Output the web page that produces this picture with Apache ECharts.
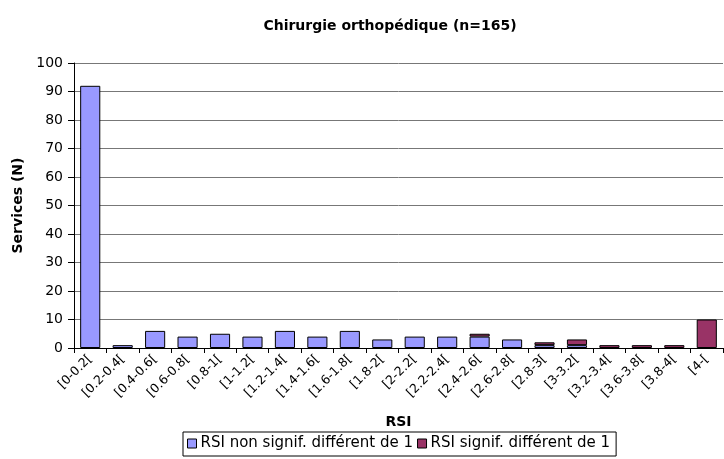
<!DOCTYPE html>
<html>
<head>
<meta charset="utf-8">
<script src="https://cdn.jsdelivr.net/npm/echarts@6/dist/echarts.min.js"></script>
<style>
  html, body { margin: 0; padding: 0; background: #fff; }
  #chart { width: 724px; height: 459px; }
</style>
</head>
<body>
<div id="chart"></div>
<script>
// RSI classes (no [3.4-3.6[ class in the source)
const categories = [
  "[0-0.2[", "[0.2-0.4[", "[0.4-0.6[", "[0.6-0.8[", "[0.8-1[",
  "[1-1.2[", "[1.2-1.4[", "[1.4-1.6[", "[1.6-1.8[", "[1.8-2[",
  "[2-2.2[", "[2.2-2.4[", "[2.4-2.6[", "[2.6-2.8[", "[2.8-3[",
  "[3-3.2[", "[3.2-3.4[", "[3.6-3.8[", "[3.8-4[", "[4-["
];
const nonSignif = [92, 1, 6, 4, 5, 4, 6, 4, 6, 3, 4, 4, 4, 3, 1, 1, 0, 0, 0, 0];
const signif    = [0, 0, 0, 0, 0, 0, 0, 0, 0, 0, 0, 0, 1, 0, 1, 2, 1, 1, 1, 10];
const yTicks = { min: 0, max: 100, step: 10 };

// the source chart is stretched sideways; DejaVu's wider glyphs follow it best
const FONT = "'DejaVu Sans', Arial, sans-serif";

const chart = echarts.init(document.getElementById("chart"), null, { renderer: "canvas" });

const bar = (name, data, color) => ({
  type: "bar",
  name,
  stack: "rsi",
  data: data.map(v => (v === 0 ? null : v)),
  barWidth: "62%",
  itemStyle: { color, borderColor: "#000", borderWidth: 1 },
});

chart.setOption({
  backgroundColor: "#fff",
  animation: false,
  textStyle: { fontFamily: FONT, color: "#000" },
  title: {
    text: "Chirurgie orthopédique (n=165)",
    left: 385,
    textAlign: "center",
    top: 14,
    textStyle: { fontFamily: FONT, fontSize: 14, fontWeight: "bold", color: "#000" },
  },
  legend: {
    left: 183,
    top: 432,
    orient: "horizontal",
    padding: [4, 6, 5, 4],
    borderColor: "#000",
    borderWidth: 1,
    itemWidth: 9,
    itemHeight: 9,
    itemGap: 4,
    icon: "rect",
    textStyle: { fontFamily: FONT, fontSize: 15, color: "#000", padding: [0, 0, 0, -1] },
    data: [
      { name: "RSI non signif. différent de 1", itemStyle: { borderColor: "#000", borderWidth: 1 } },
      { name: "RSI signif. différent de 1", itemStyle: { borderColor: "#000", borderWidth: 1 } },
    ],
  },
  grid: { left: 74, right: 1, top: 63, bottom: 111, containLabel: false },
  xAxis: {
    type: "category",
    data: categories,
    name: "RSI",
    nameLocation: "middle",
    nameGap: 67,
    nameTextStyle: { fontFamily: FONT, fontSize: 14, fontWeight: "bold", color: "#000" },
    axisLine: { lineStyle: { color: "#000", width: 1 } },
    axisTick: { show: true, length: 5, lineStyle: { color: "#000" } },
    axisLabel: { rotate: 45, fontSize: 12.5, color: "#000", fontFamily: FONT, margin: 9, interval: 0 },
    splitLine: { show: false },
  },
  yAxis: {
    type: "value",
    min: yTicks.min,
    max: yTicks.max,
    interval: yTicks.step,
    name: "Services (N)",
    nameLocation: "middle",
    nameGap: 48,
    nameTextStyle: { fontFamily: FONT, fontSize: 14, fontWeight: "bold", color: "#000" },
    axisLine: { show: true, lineStyle: { color: "#000", width: 1 } },
    axisTick: { show: true, length: 6, lineStyle: { color: "#000" } },
    axisLabel: { fontSize: 14, color: "#000", fontFamily: FONT, margin: 11 },
    splitLine: { show: true, lineStyle: { color: "#777", width: 1 } },
  },
  series: [
    bar("RSI non signif. différent de 1", nonSignif, "#9999FF"),
    bar("RSI signif. différent de 1", signif, "#993366"),
  ],
});
</script>
</body>
</html>
